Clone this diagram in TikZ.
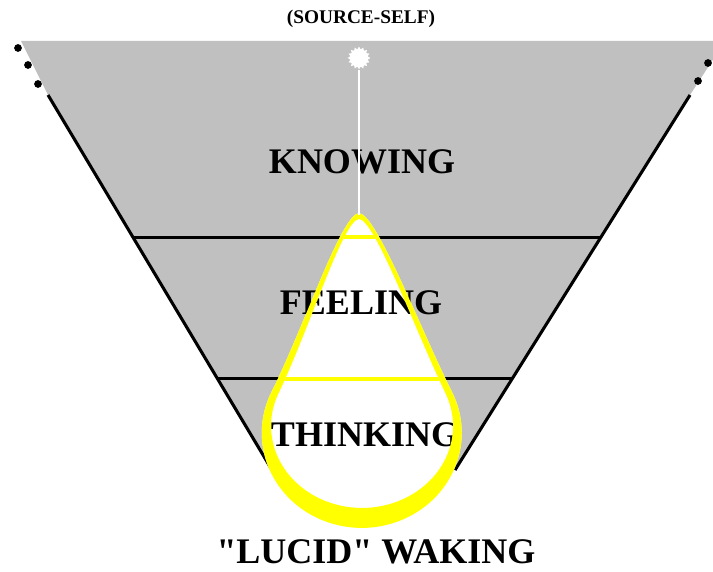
\documentclass[tikz,border=0pt]{standalone}
\usepackage{fontspec}
\setmainfont{Liberation Serif}[Ligatures=TeXOff]
\usepackage{tikz}
\usetikzlibrary{shapes.geometric, calc}
\definecolor{FunnelGray}{RGB}{192,192,192}
\definecolor{LampYellow}{RGB}{255,255,0}
\def\dropouter{(359,358) .. controls (377,356) and (419,245) .. (452,179)
  arc[start angle=25.5, end angle=-205.5, x radius=75pt, y radius=71.25pt]
  .. controls (304.5,245) and (341,356) .. (359,358) -- cycle}
\def\dropinner{(359,352) .. controls (375,351) and (413.6,244.5) .. (445.6,177.5)
  arc[start angle=23.3, end angle=-203.3, x radius=68.25pt, y radius=61.5pt]
  .. controls (310.4,244.5) and (343,351) .. (359,352) -- cycle}

\begin{document}
\begin{tikzpicture}[x=0.75pt, y=0.75pt,
    rim/.style={black, line width=2.3pt},
    level/.style={font=\bfseries\fontsize{27}{30}\selectfont, inner sep=0pt}]
  \useasboundingbox (0,0) rectangle (713,571);
  \coordinate (lt) at (48,476);
  \coordinate (lb) at (272,101);
  \coordinate (rt) at (690,476);
  \coordinate (rb) at (455,101);
  \coordinate (tip) at (359,356);
  % funnel
  \fill[FunnelGray] (21,530) -- (725,530) -- (rt) -- (rb) -- (lb) -- (lt) -- cycle;
  \draw[rim] (lt) -- (lb);
  \draw[rim] (rt) -- (rb);
  \draw[rim] ($(lt)!0.379!(lb)$) -- ($(rt)!0.379!(rb)$);
  \draw[rim] ($(lt)!0.757!(lb)$) -- ($(rt)!0.757!(rb)$);
  \foreach \x/\y in {18/523, 28/506, 38/487, 718/526, 708/508, 698/490}{
    \fill[black] (\x,\y) circle (2.9pt);
  }
  % the light
  \fill[white] \dropouter;
  \begin{scope}
    \clip \dropinner;
    \draw[LampYellow, line width=2.3pt] (200,334) -- (520,334);
    \draw[LampYellow, line width=2.3pt] (200,192) -- (520,192);
  \end{scope}
  \node[level] (knowing) at (362,409) {KNOWING};
  \node[level] (feeling) at (361,268) {FEELING};
  \node[level] (thinking) at (365,136) {THINKING};
  \node[level] (lucid) at (376,19) {"LUCID" WAKING};
  \node[font=\bfseries\fontsize{14.5}{16}\selectfont, inner sep=0pt] (source) at (361,552) {(SOURCE-SELF)};
  \fill[LampYellow, even odd rule] \dropouter \dropinner;
  \node[star, star points=16, star point ratio=1.3, fill=white, inner sep=0pt,
        minimum size=17pt] (self) at (359,513) {};
  \draw[white, line width=2.2pt] (self) -- (tip);
\end{tikzpicture}
\end{document}
